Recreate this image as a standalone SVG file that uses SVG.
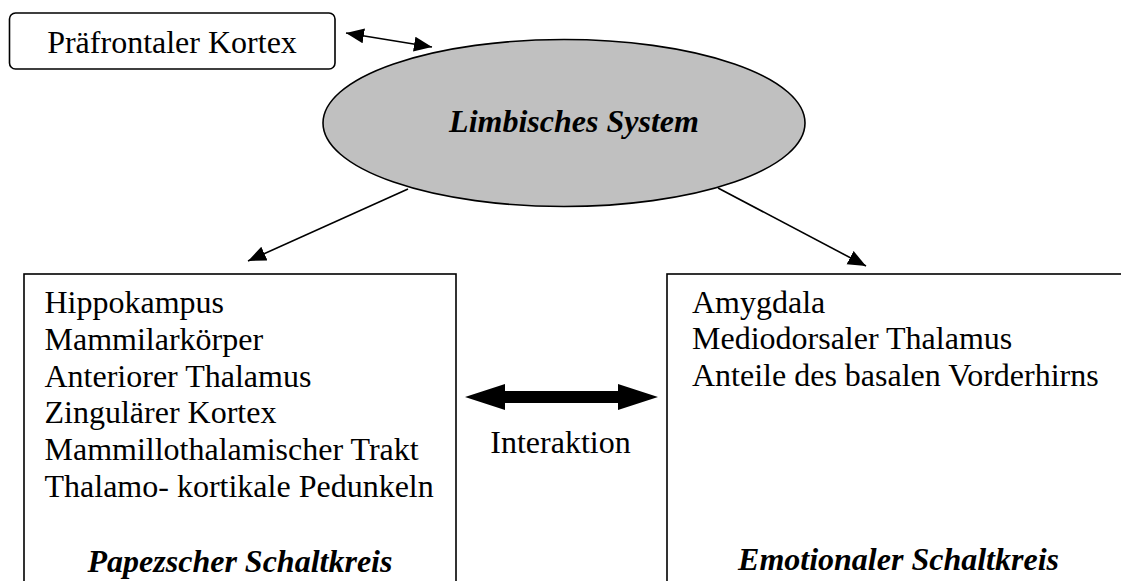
<svg xmlns="http://www.w3.org/2000/svg" width="1121" height="581" viewBox="0 0 1121 581">
  <style>
    text { font-family: 'Liberation Serif', 'Times New Roman', Times, serif; font-size: 32px; fill: #000; }
    .title { font-weight: bold; font-style: italic; }
    .box { fill: #fff; stroke: #000; stroke-width: 1.6; }
    .link { fill: none; stroke: #000; stroke-width: 1.6; }
  </style>
  <defs>
    <marker id="head" markerUnits="userSpaceOnUse" markerWidth="20" markerHeight="18" refX="18" refY="7.5" orient="auto-start-reverse">
      <path d="M0,0 L18,7.5 L0,15 z" fill="#000"/>
    </marker>
  </defs>

  <rect width="1121" height="581" fill="#fff"/>

  <!-- Prefrontal cortex -->
  <g id="praefrontal">
    <rect class="box" x="9.5" y="13" width="325.5" height="56" rx="6" ry="6"/>
    <text x="172" y="53" text-anchor="middle">Präfrontaler Kortex</text>
  </g>

  <!-- Limbic system -->
  <g id="limbisch">
    <ellipse cx="564" cy="123" rx="241" ry="83.5" fill="#c0c0c0" stroke="#000" stroke-width="1.6"/>
    <text class="title" x="574" y="132" text-anchor="middle">Limbisches System</text>
  </g>

  <!-- Papez circuit -->
  <g id="papez">
    <rect class="box" x="24" y="274" width="432" height="330"/>
    <text x="44.5" y="313">Hippokampus</text>
    <text x="44.5" y="350">Mammilarkörper</text>
    <text x="44.5" y="387">Anteriorer Thalamus</text>
    <text x="44.5" y="423">Zingulärer Kortex</text>
    <text x="44.5" y="460">Mammillothalamischer Trakt</text>
    <text x="44.5" y="497">Thalamo- kortikale Pedunkeln</text>
    <text class="title" x="240" y="572" text-anchor="middle">Papezscher Schaltkreis</text>
  </g>

  <!-- Emotional circuit -->
  <g id="emotional">
    <rect class="box" x="667" y="274" width="470" height="330"/>
    <text x="692" y="313">Amygdala</text>
    <text x="692" y="349">Mediodorsaler Thalamus</text>
    <text x="692" y="386">Anteile des basalen Vorderhirns</text>
    <text class="title" x="898.5" y="570" text-anchor="middle">Emotionaler Schaltkreis</text>
  </g>

  <!-- Interaction label -->
  <g id="interaktion">
    <text x="560.5" y="453" text-anchor="middle">Interaktion</text>
  </g>

  <!-- Connectors -->
  <g id="connectors">
    <line class="link" x1="346" y1="33" x2="432" y2="47" marker-start="url(#head)" marker-end="url(#head)"/>
    <line class="link" x1="408" y1="189" x2="248" y2="261" marker-end="url(#head)"/>
    <line class="link" x1="718" y1="188" x2="866" y2="266" marker-end="url(#head)"/>
    <polygon points="465,397 505,384 505,391 618,391 618,384 658,397 618,410 618,403 505,403 505,410" fill="#000"/>
  </g>
</svg>
